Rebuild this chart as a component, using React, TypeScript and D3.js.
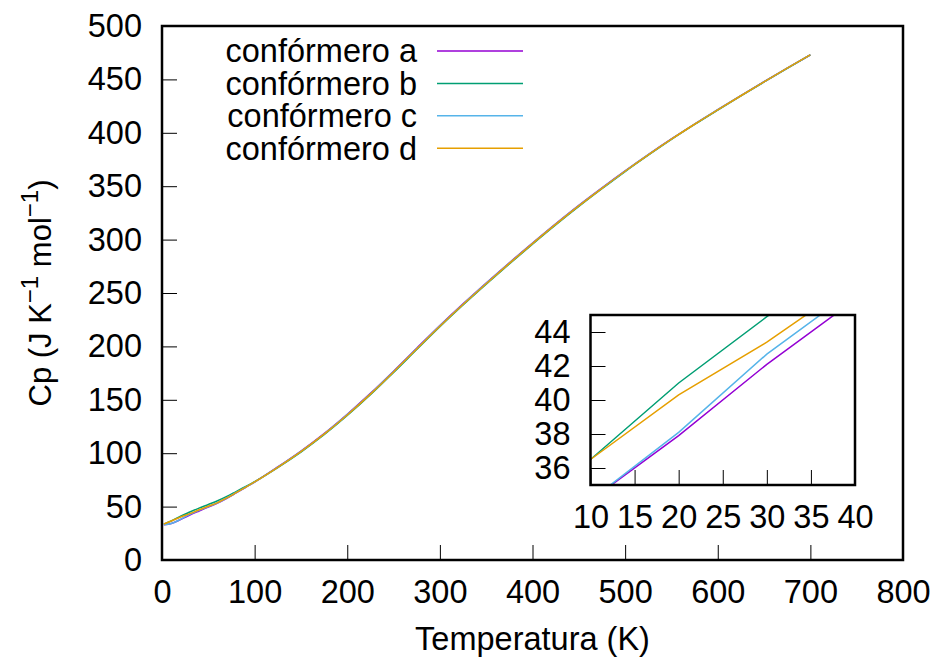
import * as React from 'react';
import * as d3 from 'd3';

// temperature grid (K) and Cp values (J K-1 mol-1)
const temperatures = [2, 10, 20, 30, 40, 50, 60, 70, 80, 90, 100, 125, 150, 175, 200, 225, 250, 275, 300, 325, 350, 375, 400, 425, 450, 475, 500, 525, 550, 575, 600, 625, 650, 675, 700];

const confA = [32.9, 34.1, 37.9, 42.1, 45.9, 49.6, 53.3, 57.8, 62.8, 67.9, 73.0, 87.1, 102.0, 118.4, 136.5, 156.0, 176.8, 198.3, 219.5, 239.8, 259.3, 278.3, 296.7, 314.7, 332.0, 348.4, 364.3, 379.6, 394.2, 408.2, 421.6, 434.8, 447.8, 460.5, 473.0];
const confB = [33.6, 36.5, 41.0, 44.9, 48.6, 52.0, 55.5, 59.6, 64.1, 68.6, 73.4, 86.6, 101.1, 117.3, 135.3, 154.8, 175.6, 197.1, 218.4, 238.7, 258.2, 277.2, 295.7, 313.7, 331.0, 347.6, 363.7, 379.0, 393.8, 407.8, 421.3, 434.6, 447.6, 460.4, 472.9];
const confC = [33.0, 34.1, 38.1, 42.7, 46.5, 50.0, 53.6, 58.0, 63.0, 68.0, 73.0, 86.9, 101.7, 118.0, 136.1, 155.6, 176.4, 197.9, 219.2, 239.5, 259.0, 278.0, 296.5, 314.5, 331.8, 348.2, 364.2, 379.5, 394.1, 408.1, 421.6, 434.7, 447.7, 460.5, 473.0];
const confD = [33.7, 36.5, 40.3, 43.4, 47.0, 50.3, 53.7, 58.1, 63.0, 68.0, 73.1, 86.8, 101.5, 117.8, 135.8, 155.3, 176.1, 197.6, 218.9, 239.2, 258.7, 277.7, 296.2, 314.2, 331.5, 348.0, 364.0, 379.3, 394.0, 408.0, 421.5, 434.7, 447.7, 460.5, 473.0];

const seriesNames = ['confórmero a', 'confórmero b', 'confórmero c', 'confórmero d'];
const seriesValues = [confA, confB, confC, confD];
const seriesColors = ['#9400d3', '#009e73', '#56b4e9', '#e69f00'];

const xTicks = [0, 100, 200, 300, 400, 500, 600, 700, 800];
const yTicks = [0, 50, 100, 150, 200, 250, 300, 350, 400, 450, 500];
const insetXTicks = [10, 15, 20, 25, 30, 35, 40];
const insetYTicks = [36, 38, 40, 42, 44];

const FONT = '"Liberation Sans", Arial, Helvetica, sans-serif';

export default class App extends React.Component {
  svgRef = React.createRef<SVGSVGElement>();
  width = 936;
  height = 659;
  fontSize = 32.5;

  componentDidMount() {
    this.init();
  }

  init() {
    const svg = d3.select(this.svgRef.current);
    svg.selectAll('*').remove();
    svg.style('font-family', FONT).style('font-size', `${this.fontSize}px`);

    svg.append('rect').attr('width', this.width).attr('height', this.height).attr('fill', 'white');

    const data = seriesValues.map((vals, i) => ({
      name: seriesNames[i],
      color: seriesColors[i],
      points: temperatures.map((t, j) => [t, vals[j]] as [number, number])
    }));

    // main plot
    const xScale = d3.scaleLinear().domain([0, 800]).range([162, 903]);
    const yScale = d3.scaleLinear().domain([0, 500]).range([560, 26]);

    const line = d3.line<[number, number]>()
      .curve(d3.curveMonotoneX)
      .x(d => xScale(d[0]))
      .y(d => yScale(d[1]));

    svg.append('g').attr('class', 'lines')
      .selectAll('path')
      .data(data)
      .enter().append('path')
      .attr('fill', 'none')
      .attr('stroke', d => d.color)
      .attr('stroke-width', 1.5)
      .attr('d', d => line(d.points));

    this.drawAxes(svg, xScale, yScale, xTicks, yTicks);

    svg.append('rect')
      .attr('x', 162).attr('y', 26)
      .attr('width', 903 - 162).attr('height', 560 - 26)
      .attr('fill', 'none').attr('stroke', 'black').attr('stroke-width', 2.5);

    // axis labels
    svg.append('text')
      .attr('x', (162 + 903) / 2)
      .attr('y', 650)
      .attr('text-anchor', 'middle')
      .text('Temperatura (K)');

    const yLabel = svg.append('text')
      .attr('transform', `translate(51, ${(26 + 560) / 2}) rotate(-90)`)
      .attr('text-anchor', 'middle')
      .style('font-size', '31px');
    yLabel.append('tspan').text('Cp (J K');
    yLabel.append('tspan').attr('dy', -13).style('font-size', '24px').text('−1');
    yLabel.append('tspan').attr('dy', 13).text(' mol');
    yLabel.append('tspan').attr('dy', -13).style('font-size', '24px').text('−1');
    yLabel.append('tspan').attr('dy', 13).text(')');

    this.initLegend(svg, data);

    // inset
    const insetX = d3.scaleLinear().domain([10, 40]).range([590.5, 855]);
    const insetY = d3.scaleLinear().domain([35, 45]).range([485, 315]);

    svg.append('rect')
      .attr('x', 590.5).attr('y', 315)
      .attr('width', 855 - 590.5).attr('height', 485 - 315)
      .attr('fill', 'white');

    svg.append('clipPath').attr('id', 'inset-clip')
      .append('rect')
      .attr('x', 590.5).attr('y', 315)
      .attr('width', 855 - 590.5).attr('height', 485 - 315);

    const insetLine = d3.line<[number, number]>()
      .x(d => insetX(d[0]))
      .y(d => insetY(d[1]));

    svg.append('g').attr('clip-path', 'url(#inset-clip)')
      .selectAll('path')
      .data(data)
      .enter().append('path')
      .attr('fill', 'none')
      .attr('stroke', d => d.color)
      .attr('stroke-width', 1.5)
      .attr('d', d => insetLine(d.points));

    this.drawAxes(svg, insetX, insetY, insetXTicks, insetYTicks);

    svg.append('rect')
      .attr('x', 590.5).attr('y', 315)
      .attr('width', 855 - 590.5).attr('height', 485 - 315)
      .attr('fill', 'none').attr('stroke', 'black').attr('stroke-width', 2.5);
  }

  drawAxes(svg: any, xScale: any, yScale: any, xt: number[], yt: number[]) {
    const [x0] = xScale.range();
    const [y0] = yScale.range();

    const xAxis = d3.axisBottom(xScale)
      .tickValues(xt)
      .tickSizeInner(-15)
      .tickSizeOuter(0)
      .tickPadding(20)
      .tickFormat(d3.format('d'));

    const yAxis = d3.axisLeft(yScale)
      .tickValues(yt)
      .tickSizeInner(-15)
      .tickSizeOuter(0)
      .tickPadding(20)
      .tickFormat(d3.format('d'));

    const gx = svg.append('g')
      .attr('transform', `translate(0, ${y0})`)
      .call(xAxis);
    const gy = svg.append('g')
      .attr('transform', `translate(${x0}, 0)`)
      .call(yAxis);

    [gx, gy].forEach(g => {
      g.attr('font-family', FONT).attr('font-size', this.fontSize);
      g.select('.domain').remove();
      g.selectAll('line').attr('stroke', 'black').attr('stroke-width', 1);
      g.selectAll('text').attr('fill', 'black');
    });
  }

  initLegend(svg: any, data: any[]) {
    const rowY = d3.scaleLinear().domain([0, 3]).range([51, 148.3]);

    const entry = svg.append('g').attr('class', 'legend')
      .selectAll('g')
      .data(data)
      .enter().append('g')
      .attr('transform', (d: any, i: number) => `translate(0, ${rowY(i)})`);

    entry.append('text')
      .attr('x', 417)
      .attr('dy', '0.35em')
      .attr('text-anchor', 'end')
      .text((d: any) => d.name);

    entry.append('line')
      .attr('x1', 437).attr('x2', 523)
      .attr('stroke', (d: any) => d.color)
      .attr('stroke-width', 1.5);
  }

  render() {
    return (
      <svg
        ref={this.svgRef}
        width={this.width}
        height={this.height}
        style={{ position: 'absolute', left: 0, top: 0 }}
      />
    );
  }
}
